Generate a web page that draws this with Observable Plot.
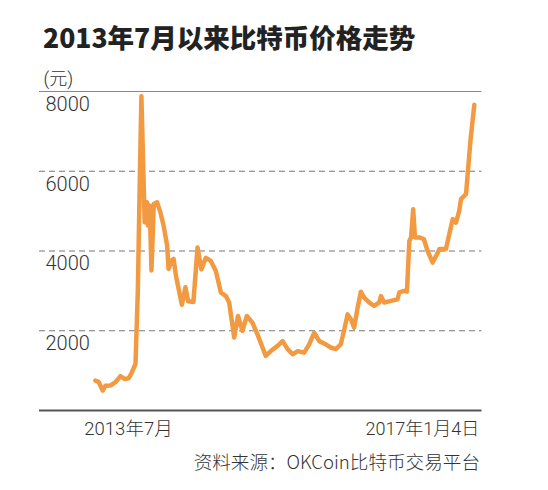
<!DOCTYPE html>
<html>
<head>
<meta charset="utf-8">
<script src="https://cdn.jsdelivr.net/npm/d3@7"></script>
<script src="https://cdn.jsdelivr.net/npm/@observablehq/plot@0.6"></script>
<style>
  html, body { margin: 0; padding: 0; background: #fff; }
  body { width: 548px; height: 490px; overflow: hidden; font-family: "Roboto", "Noto Sans CJK SC", sans-serif; }
  #title { height: 62px; box-sizing: border-box; padding: 24px 0 0 43px; font: 900 26.5px/26px "Noto Sans CJK SC", sans-serif; color: #222; white-space: nowrap; }
  #chart svg { display: block; }
  #caption { box-sizing: border-box; width: 480px; text-align: right; font: 300 18.6px/20px "Noto Sans CJK SC", sans-serif; color: #333; padding-top: 9px; white-space: nowrap; }
</style>
</head>
<body>
<div id="title">2013年7月以来比特币价格走势</div>
<div id="chart"></div>
<div id="caption">资料来源：OKCoin比特币交易平台</div>
<script>
const dates = [
  "2013-07-01","2013-07-12","2013-07-26","2013-08-04","2013-08-21","2013-09-07","2013-09-24","2013-10-08",
  "2013-10-22","2013-11-02","2013-11-14","2013-11-22","2013-11-28","2013-12-04","2013-12-15","2013-12-23",
  "2013-12-26","2014-01-01","2014-01-07","2014-01-15","2014-01-26","2014-02-06","2014-02-17","2014-03-01",
  "2014-03-06","2014-03-16","2014-03-23","2014-03-31","2014-04-09","2014-04-20","2014-05-02","2014-05-11",
  "2014-05-29","2014-06-12","2014-06-25","2014-07-10","2014-07-27","2014-08-13","2014-08-30","2014-09-16",
  "2014-09-27","2014-10-14","2014-10-27","2014-11-11","2014-11-26","2014-12-15","2015-01-01","2015-01-18",
  "2015-01-29","2015-02-15","2015-03-10","2015-03-27","2015-04-13","2015-04-30","2015-05-17","2015-06-08",
  "2015-06-25","2015-07-12","2015-07-29","2015-08-20","2015-09-06","2015-09-23","2015-10-10","2015-10-22",
  "2015-11-02","2015-11-13","2015-11-24","2015-12-06","2015-12-17","2015-12-28","2016-01-14","2016-01-31",
  "2016-02-17","2016-02-23","2016-03-05","2016-03-28","2016-04-19","2016-04-25","2016-05-12","2016-05-21",
  "2016-05-29","2016-06-04","2016-06-11","2016-06-17","2016-07-02","2016-07-17","2016-07-30","2016-08-16",
  "2016-08-28","2016-09-08","2016-09-30","2016-10-06","2016-10-23","2016-11-03","2016-11-14","2016-11-20",
  "2016-12-07","2016-12-13","2016-12-22","2017-01-04"
];
const prices = [
  750, 720, 500, 620, 625, 710, 860, 790,
  810, 960, 1170, 3030, 5560, 7880, 4720, 5220,
  4640, 5140, 3510, 5180, 5220, 4980, 4640, 4140,
  3550, 3760, 3800, 3380, 3050, 2650, 3090, 2740,
  2720, 4090, 3540, 3830, 3750, 3500, 2960, 2870,
  2710, 1830, 2370, 2000, 2370, 2200, 1910, 1580,
  1370, 1490, 1620, 1740, 1540, 1410, 1490, 1450,
  1660, 1950, 1740, 1660, 1580, 1540, 1660, 2040,
  2410, 2290, 2080, 2580, 2980, 2830, 2710, 2620,
  2710, 2870, 2710, 2750, 2790, 2960, 3000, 2980,
  4250, 4340, 5050, 4340, 4340, 4300, 4000, 3710,
  3880, 4050, 4050, 4250, 4800, 4710, 5010, 5300,
  5430, 5970, 6770, 7670
];
const yTicks = [2000, 4000, 6000, 8000];
const gridValues = [2000, 4000, 6000];
const unitLabel = "(元)";
const startLabel = "2013年7月";
const endLabel = "2017年1月4日";
const xDomain = ["2012-12-24", "2017-01-30"];

const data = dates.map((d, i) => ({date: new Date(d), price: prices[i]}));
const labelFont = "Roboto, 'Noto Sans CJK SC', sans-serif";

const chart = Plot.plot({
  width: 548,
  height: 380,
  marginLeft: 39,
  marginRight: 66.5,
  marginTop: 29,
  marginBottom: 32,
  style: {background: "#fff", fontFamily: labelFont, overflow: "visible"},
  x: {type: "utc", domain: xDomain.map(d => new Date(d)), axis: null},
  y: {domain: [0, 8000], axis: null},
  marks: [
    Plot.ruleY(gridValues, {stroke: "#777", strokeWidth: 1, strokeDasharray: "6,4"}),
    Plot.ruleY([8000], {stroke: "#888", strokeWidth: 1.2}),
    Plot.ruleY([0], {stroke: "#555", strokeWidth: 2}),
    Plot.text(yTicks, {y: d => d, text: d => String(d), frameAnchor: "left", textAnchor: "start", lineAnchor: "middle", dx: 6, dy: 13, fontSize: 20, fontWeight: 300, fill: "#333"}),
    Plot.text([unitLabel], {frameAnchor: "top-left", textAnchor: "start", lineAnchor: "middle", dx: 4, dy: -12, fontSize: 18, fontWeight: 300, fill: "#333"}),
    Plot.line(data, {x: "date", y: "price", stroke: "#F29A41", strokeWidth: 4.5, strokeLinejoin: "round", strokeLinecap: "round"}),
    Plot.text([startLabel], {x: () => new Date(dates[0]), frameAnchor: "bottom", textAnchor: "start", lineAnchor: "middle", dx: -11, dy: 19, fontSize: 18.5, fontWeight: 300, fill: "#333"}),
    Plot.text([endLabel], {x: () => new Date(dates[dates.length - 1]), frameAnchor: "bottom", textAnchor: "end", lineAnchor: "middle", dx: 5, dy: 19, fontSize: 18, fontWeight: 300, fill: "#333"})
  ]
});
document.getElementById("chart").appendChild(chart);
</script>
</body>
</html>
